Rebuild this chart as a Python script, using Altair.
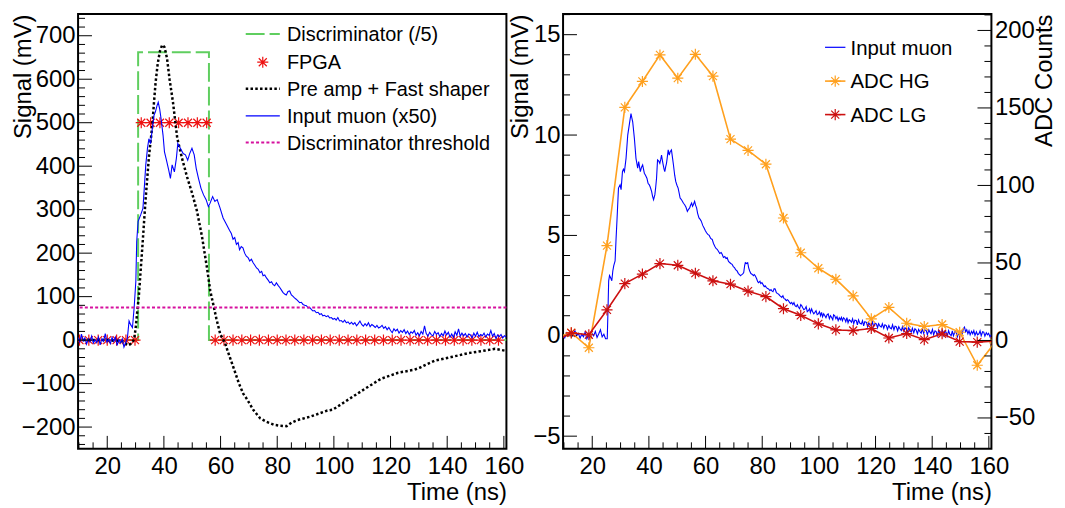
import altair as alt
import pandas as pd

FONT = "Liberation Sans"
PW, PH = 431, 437.5
X_DOMAIN = [9.7, 160.9]

# ---------------- left panel data ----------------
disc_t = [9.7, 30.9, 30.9, 55.9, 55.9, 160.9]
disc_mv = [0, 0, 662, 662, 0, 0]

fpga_low_t = [10.2, 13.5, 16.8, 20.0, 23.3, 26.6, 29.8,
              58.1, 61.2, 64.4, 67.5, 70.6, 73.7, 76.9, 80.0, 83.1, 86.2, 89.4,
              92.5, 95.6, 98.7, 101.9, 105.0, 108.1, 111.2, 114.4, 117.5, 120.6,
              123.7, 126.9, 130.0, 133.1, 136.2, 139.4, 142.5, 145.6, 148.7,
              151.9, 155.0, 158.1]
fpga_high_t = [32.0, 35.3, 38.6, 41.9, 45.2, 48.5, 51.8, 55.1]
fpga_levels_mv = [0, 500]

shaper = [(9.7, 0), (20, 0), (25.5, -3), (27.3, -12), (28.5, -8), (29.5, 2), (30.05, 29),
          (31.2, 106), (32.4, 215), (33.56, 326), (34.72, 422), (35.91, 494), (36.5, 547),
          (37.07, 593), (37.8, 635), (38.6, 665), (39.4, 679), (40.2, 674), (41.1, 648),
          (42.0, 600), (43.2, 547), (44.7, 465), (46.4, 418), (48.19, 375), (49.95, 338),
          (51.7, 296), (53.45, 238), (55.21, 166), (56.37, 113), (57.5, 80), (58.5, 50),
          (59.88, 14), (61.6, -7), (62.5, -25), (64.5, -62), (66.5, -100), (68.0, -123),
          (69.24, -135), (71.6, -161), (74.0, -180), (76.3, -188), (79.0, -195), (81.1, -197),
          (83.3, -198), (85.0, -190), (87.0, -184), (91.7, -176), (97.7, -162), (99.6, -160),
          (104.8, -138), (110.7, -113), (116.6, -89), (122.7, -75), (128.5, -68), (130.5, -63),
          (132.0, -58), (135.6, -47), (141.4, -39), (147.4, -30), (153.4, -24), (156.9, -20),
          (160.9, -25)]

muon_left = [
    (9.7, 6), (10.3, -4), (10.9, 14), (11.5, -2), (12.1, 5), (12.7, -9), (13.3, 3), (13.9, -4),
    (14.5, 9), (15.1, -7), (15.7, 1), (16.3, -6), (16.9, 7), (17.5, -11), (18.1, 3), (18.7, -3),
    (19.3, 15), (19.9, -5), (20.5, 2), (21.1, -8), (21.7, 6), (22.3, -3), (22.9, 7), (23.5, -12),
    (24.1, 1), (24.7, -6), (25.3, 3), (25.9, -16), (26.5, -6), (27.1, 4), (27.7, 44), (28.3, 35),
    (28.9, 29), (29.5, 75), (30.1, 136), (30.4, 227), (30.9, 273), (31.8, 288), (32.6, 303),
    (33.0, 342), (33.6, 403), (34.2, 441), (34.7, 463), (35.3, 452), (35.9, 486), (36.5, 517),
    (37.0, 525), (37.6, 540), (38.0, 547), (38.5, 532), (39.0, 509), (39.7, 471), (40.2, 433),
    (40.9, 414), (41.7, 391), (42.3, 372), (42.9, 403), (43.7, 387), (44.4, 418), (44.9, 452),
    (45.8, 441), (46.8, 429), (47.6, 426), (48.4, 414), (49.1, 429), (49.9, 441), (50.7, 426),
    (51.4, 395), (52.2, 372), (53.1, 349), (54.0, 334), (54.9, 323), (55.7, 307), (56.3, 315),
    (57.2, 330), (58.0, 319), (58.8, 323), (59.8, 304), (60.9, 281), (62.1, 266), (63.2, 252),
    (63.8, 245), (64.4, 232), (65.0, 236), (65.6, 220), (66.2, 224), (66.7, 208), (67.3, 215),
    (67.9, 212), (68.5, 200), (69.1, 193), (69.7, 190), (70.3, 182), (70.9, 186), (71.5, 178),
    (72.1, 172), (72.7, 166), (73.3, 163), (73.9, 155), (74.5, 158), (75.0, 148), (75.6, 150),
    (76.2, 143), (76.8, 138), (77.4, 132), (78.0, 134), (78.5, 128), (79.1, 125), (79.7, 132),
    (80.3, 126), (80.9, 121), (81.5, 115), (82.0, 110), (82.6, 106), (83.2, 104), (83.8, 112),
    (84.4, 113), (85.0, 104), (85.5, 101), (86.1, 97), (86.7, 94), (87.3, 90), (87.9, 86),
    (88.5, 87), (89.1, 82), (89.7, 80), (90.3, 79), (90.9, 74), (91.5, 75), (92.1, 70),
    (92.6, 67), (93.2, 68), (93.8, 63), (94.4, 64), (95.0, 59), (95.6, 61), (96.1, 56),
    (96.7, 57), (97.3, 54), (97.9, 56), (98.5, 51), (99.1, 52), (99.7, 48), (100.3, 50),
    (100.8, 46), (101.4, 52), (102.0, 44), (102.6, 45), (103.2, 41), (103.8, 46), (104.4, 40),
    (105.0, 42), (105.6, 37), (106.2, 41), (106.8, 36), (107.4, 40), (108.0, 33), (108.6, 38),
    (109.2, 44), (109.8, 36), (110.4, 32), (111.0, 38), (111.6, 33), (112.2, 40), (112.8, 31),
    (113.4, 36), (114.0, 33), (114.6, 29), (115.2, 34), (115.8, 28), (116.4, 30), (117.0, 34),
    (117.6, 27), (118.2, 31), (118.8, 24), (119.4, 29), (120.0, 22), (120.6, 17), (121.2, 26),
    (121.8, 21), (122.4, 25), (123.0, 16), (123.6, 22), (124.2, 18), (124.8, 24), (125.4, 15),
    (126.0, 21), (126.6, 13), (127.2, 19), (127.8, 16), (128.4, 22), (129.0, 11), (129.6, 17),
    (130.2, 10), (130.8, 20), (131.4, 14), (132.0, 33), (132.6, 15), (133.2, 9), (133.8, 18),
    (134.4, 12), (135.0, 10), (135.6, 20), (136.2, 13), (136.8, 17), (137.4, 8), (138.0, 15),
    (138.6, 10), (139.2, 21), (139.8, 12), (140.4, 18), (141.0, 7), (141.6, 14), (142.2, 6),
    (142.8, 19), (143.4, 11), (144.0, 26), (144.6, 9), (145.2, 16), (145.8, 10), (146.4, 15),
    (147.0, 7), (147.6, 14), (148.2, 12), (148.8, 5), (149.4, 16), (150.0, 9), (150.6, 18),
    (151.2, 8), (151.8, 13), (152.4, 10), (153.0, 16), (153.6, 7), (154.2, 14), (154.8, 11),
    (155.4, 22), (156.0, 9), (156.6, 15), (157.2, 4), (157.8, 12), (158.4, 8), (159.0, 13),
    (159.6, 5), (160.2, 10), (160.9, 7)]

threshold_mv = [75]

# ---------------- right panel data ----------------
muon_right = [
    (9.7, 0.05), (10.3, -0.1), (10.9, 0.15), (11.5, 0.02), (12.1, 0.2), (12.7, -0.05), (13.3, 0.1),
    (13.9, 0.25), (14.5, 0.0), (15.1, 0.12), (15.7, -0.12), (16.3, 0.08), (16.9, -0.05), (17.5, 0.18),
    (18.1, -0.15), (18.7, 0.05), (19.3, -0.2), (19.9, 0.12), (20.5, 0.0), (21.1, 0.22), (21.7, -0.08),
    (22.3, 0.1), (22.9, 0.3), (23.5, -0.05), (24.1, 0.08), (24.7, -0.15), (25.3, -0.15), (25.6, 1.5),
    (25.8, 2.74), (26.1, 3.0), (26.46, 2.9), (26.91, 2.74), (27.26, 3.23), (27.6, 3.5), (28.07, 3.73),
    (28.4, 4.8), (28.77, 5.87), (29.26, 7.36), (29.82, 7.52), (30.18, 7.28), (30.67, 8.18), (31.0, 8.3),
    (31.37, 8.18), (31.93, 8.84), (32.53, 10.0), (33.23, 10.66), (33.68, 11.07), (33.9, 10.9),
    (34.28, 10.66), (34.88, 9.83), (35.44, 8.84), (36.04, 8.35), (36.39, 8.68), (36.98, 8.18),
    (37.4, 8.4), (37.79, 8.51), (38.39, 8.1), (38.8, 8.0), (39.3, 7.85), (39.7, 7.6), (40.14, 7.52),
    (40.5, 7.4), (40.95, 7.19), (41.3, 6.95), (41.65, 6.78), (42.11, 7.03), (42.4, 7.4), (42.7, 7.85),
    (43.05, 8.76), (43.5, 8.7), (43.86, 8.59), (44.2, 8.8), (44.46, 9.0), (44.8, 8.7), (45.05, 8.51),
    (45.35, 8.3), (45.61, 8.18), (45.9, 8.4), (46.21, 8.59), (46.5, 8.9), (46.81, 9.26), (47.2, 9.0),
    (47.51, 9.17), (47.96, 9.26), (48.3, 8.9), (48.67, 8.51), (49.1, 8.0), (49.47, 7.69), (49.9, 7.5),
    (50.32, 7.36), (50.7, 7.1), (51.02, 6.86), (51.4, 6.8), (51.82, 6.7), (52.2, 6.6), (52.63, 6.53),
    (53.1, 6.4), (53.58, 6.2), (54.0, 6.3), (54.39, 6.37), (54.7, 6.5), (55.09, 6.61), (55.4, 6.45),
    (55.68, 6.53), (56.14, 6.7), (56.5, 6.5), (56.84, 6.37), (57.2, 6.1), (57.68, 5.87), (58.1, 5.8),
    (58.49, 5.71), (59.0, 5.5), (59.44, 5.38), (59.9, 5.25), (60.35, 5.13), (60.8, 5.05), (61.3, 5.0),
    (61.8, 4.85), (62.35, 4.8), (62.8, 4.6), (63.3, 4.45), (63.7, 4.35), (64.1, 4.31), (64.6, 4.2),
    (65.0, 4.1), (65.5, 4.15), (65.86, 4.06), (66.3, 3.9), (66.8, 3.95), (67.2, 3.85), (67.61, 3.89),
    (68.1, 3.7), (68.5, 3.65), (68.9, 3.6), (69.37, 3.56), (69.8, 3.45), (70.2, 3.4), (70.6, 3.3),
    (71.12, 3.23), (71.6, 3.1), (72.0, 3.05), (72.28, 2.99), (72.8, 3.05), (73.2, 3.1), (73.47, 3.15),
    (73.8, 3.5), (74.04, 3.64), (74.5, 3.6), (74.88, 3.64), (75.2, 3.4), (75.58, 3.23), (76.0, 3.1),
    (76.39, 3.07), (76.9, 3.0), (77.2, 3.05), (77.54, 2.99), (78.0, 2.85), (78.4, 2.7), (78.74, 2.65),
    (79.2, 2.72), (79.5, 2.6), (79.89, 2.65), (80.3, 2.55), (80.7, 2.45), (81.05, 2.49), (81.5, 2.4),
    (81.9, 2.35), (82.25, 2.33), (82.7, 2.25), (83.1, 2.3), (83.4, 2.24), (83.8, 2.2), (84.2, 2.35),
    (84.56, 2.33), (85.0, 2.15), (85.4, 2.1), (85.75, 2.08), (86.2, 2.0), (86.6, 1.95), (86.91, 1.91),
    (87.3, 2.0), (87.7, 1.85), (88.07, 1.83), (88.5, 1.75), (88.9, 1.8), (89.26, 1.75), (89.7, 1.65),
    (90.0, 1.6), (90.42, 1.66), (90.8, 1.55), (91.2, 1.65), (91.58, 1.5), (92.0, 1.45), (92.4, 1.55),
    (92.77, 1.42), (93.2, 1.35), (93.6, 1.55), (93.93, 1.5), (94.3, 1.4), (94.7, 1.3), (95.09, 1.34),
    (95.5, 1.45), (95.9, 1.2), (96.28, 1.25), (96.7, 1.35), (97.0, 1.15), (97.44, 1.34), (97.8, 1.2),
    (98.2, 1.1), (98.6, 1.17), (99.0, 1.25), (99.4, 1.05), (99.79, 1.09), (100.2, 1.2), (100.6, 1.0),
    (100.95, 1.17), (101.3, 0.95), (101.7, 1.1), (102.11, 1.0), (102.5, 0.9), (102.9, 1.05),
    (103.3, 1.09), (103.7, 0.85), (104.1, 1.0), (104.46, 0.92), (104.9, 0.8), (105.2, 1.05),
    (105.61, 1.0), (106.0, 0.85), (106.4, 0.95), (106.81, 0.76), (107.2, 0.9), (107.6, 0.8),
    (107.96, 0.92), (108.3, 0.75), (108.7, 0.9), (109.12, 0.84), (109.5, 0.7), (109.9, 0.9),
    (110.3, 0.65), (110.7, 0.8), (111.1, 0.75), (111.5, 0.67), (111.9, 0.85), (112.3, 0.6),
    (112.7, 0.78), (113.2, 0.76), (113.6, 0.55), (114.0, 0.8), (114.5, 0.62), (115.0, 0.59),
    (115.4, 0.75), (115.8, 0.5), (116.2, 0.7), (116.8, 0.67), (117.2, 0.45), (117.6, 0.65),
    (118.0, 0.55), (118.5, 0.51), (118.9, 0.7), (119.3, 0.45), (119.8, 0.62), (120.3, 0.59),
    (120.7, 0.4), (121.1, 0.6), (121.6, 0.48), (122.0, 0.43), (122.4, 0.6), (122.9, 0.38),
    (123.3, 0.55), (123.8, 0.51), (124.2, 0.32), (124.7, 0.52), (125.1, 0.4), (125.6, 0.35),
    (126.0, 0.55), (126.5, 0.3), (126.9, 0.48), (127.3, 0.46), (127.8, 0.25), (128.2, 0.45),
    (128.6, 0.35), (129.1, 0.26), (129.5, 0.45), (130.0, 0.22), (130.4, 0.4), (130.8, 0.35),
    (131.3, 0.15), (131.7, 0.4), (132.2, 0.25), (132.6, 0.18), (133.0, 0.38), (133.5, 0.15),
    (133.9, 0.35), (134.3, 0.3), (134.8, 0.1), (135.2, 0.32), (135.7, 0.2), (136.1, 0.13),
    (136.5, 0.35), (137.0, 0.12), (137.4, 0.3), (137.9, 0.26), (138.3, 0.05), (138.8, 0.3),
    (139.2, 0.18), (139.6, 0.1), (140.1, 0.32), (140.5, 0.05), (141.0, 0.25), (141.4, 0.21),
    (141.8, 0.0), (142.3, 0.28), (142.7, 0.12), (143.1, 0.06), (143.6, 0.3), (144.0, 0.02),
    (144.5, 0.22), (144.9, 0.18), (145.3, -0.02), (145.8, 0.25), (146.2, 0.08), (146.7, 0.01),
    (147.1, 0.25), (147.5, 0.0), (148.0, 0.2), (148.4, 0.18), (148.9, -0.05), (149.3, 0.15),
    (149.7, 0.0), (150.2, 0.2), (150.6, 0.1), (151.0, 0.35), (151.4, 0.43), (151.8, 0.2),
    (152.2, 0.3), (152.6, 0.1), (153.0, 0.25), (153.4, 0.05), (153.9, 0.22), (154.3, 0.1),
    (154.7, 0.26), (155.1, 0.02), (155.6, 0.2), (156.0, 0.05), (156.5, 0.1), (156.9, 0.25),
    (157.3, 0.0), (157.8, 0.2), (158.2, 0.18), (158.6, -0.02), (159.1, 0.15), (159.5, 0.05),
    (159.9, 0.12), (160.4, -0.05), (160.9, 0.05)]

adc_t = [6.4, 12.6, 18.8, 25.2, 31.5, 37.7, 43.9, 50.2, 56.4, 62.6, 68.8, 75.0, 81.3,
         87.5, 93.6, 99.8, 106.0, 112.1, 118.5, 124.7, 131.0, 137.2, 143.5, 149.7, 155.9, 162.1]
adc_hg = [1.5, 5.0, -4.7, 61.2, 150.4, 167.1, 184.2, 169.2, 184.6, 170.5, 129.9, 122.6, 113.7,
          79.0, 56.6, 46.6, 39.5, 28.8, 13.9, 21.3, 11.1, 9.0, 10.3, 5.3, -16.0, -1.5]
adc_lg = [-1.0, 4.9, 3.7, 19.7, 36.7, 42.8, 49.6, 48.5, 43.4, 38.5, 36.3, 31.8, 28.3,
          20.5, 16.2, 10.7, 6.8, 6.4, 7.7, 1.6, 4.5, 0.5, 4.3, -0.7, -1.1, -0.3]

# ---------------- ticks and legend text ----------------
x_major = [20, 40, 60, 80, 100, 120, 140, 160]
x_minor = [10, 15, 25, 30, 35, 45, 50, 55, 65, 70, 75, 85, 90, 95, 105, 110, 115,
           125, 130, 135, 145, 150, 155]
yl_major = [-200, -100, 0, 100, 200, 300, 400, 500, 600, 700]
yl_minor = [-240, -220, -180, -160, -140, -120, -80, -60, -40, -20, 20, 40, 60, 80,
            120, 140, 160, 180, 220, 240, 260, 280, 320, 340, 360, 380, 420, 440, 460,
            480, 520, 540, 560, 580, 620, 640, 660, 680, 720, 740]
yr_major = [-5, 0, 5, 10, 15]
yr_minor = [-4, -3, -2, -1, 1, 2, 3, 4, 6, 7, 8, 9, 11, 12, 13, 14, 16]
adc_major = [-50, 0, 50, 100, 150, 200]
adc_minor = [-60, -40, -30, -20, -10, 10, 20, 30, 40, 60, 70, 80, 90, 110, 120, 130,
             140, 160, 170, 180, 190, 210]

left_legend = ["Discriminator (/5)", "FPGA", "Pre amp + Fast shaper",
               "Input muon (x50)", "Discriminator threshold"]
right_legend = ["Input muon", "ADC HG", "ADC LG"]

STAR = "M-1,0L1,0M0,-1L0,1M-0.72,-0.72L0.72,0.72M-0.72,0.72L0.72,-0.72"
STAR_SIZE = 125
GREEN, RED, BLUE, PINK = "#5fce5f", "#ee1111", "#0000ff", "#d6109e"
ORANGE, DRED = "#ffa01e", "#cc1010"

xs = alt.Scale(domain=X_DOMAIN, nice=False, zero=False)
ys_left = alt.Scale(domain=[-250, 750], nice=False, zero=False)
ys_r1 = alt.Scale(domain=[-5.63, 16.03], nice=False, zero=False)
ys_r2 = alt.Scale(domain=[-69.9, 210.6], nice=False, zero=False)

common_axis = dict(ticks=False, tickSize=0, domain=False, grid=False,
                   labelFont=FONT, labelFontSize=24, labelColor="black",
                   labelFlush=False, labelOverlap=False,
                   titleFont=FONT, titleFontSize=24, titleFontWeight="normal",
                   titleColor="black")

AX_X = alt.Axis(values=x_major, labelPadding=6, title="Time (ns)", titleX=PW, titleY=51,
                titleAlign="right", titleBaseline="alphabetic", titleAngle=0, **common_axis)


def y_axis(values, title, tx, orient="left", pad=3):
    return alt.Axis(values=values, orient=orient, labelPadding=pad, title=title, titleAngle=270,
                    titleX=tx, titleY=0, titleAlign="right", titleBaseline="alphabetic",
                    **common_axis)


AX_YL = y_axis(yl_major, "Signal (mV)", -47.5)
AX_YR1 = y_axis(yr_major, "Signal (mV)", -36)
AX_YR2 = y_axis(adc_major, "ADC Counts", 60, orient="right", pad=3)


def pairs_df(pairs):
    return pd.DataFrame({"t": [p[0] for p in pairs], "v": [p[1] for p in pairs],
                         "i": list(range(len(pairs)))})


def X():
    return alt.X("t:Q", scale=xs, axis=AX_X)


def xticks(values, length):
    return alt.Chart(pd.DataFrame({"t": values})).mark_rule(color="black", strokeWidth=1).encode(
        x=X(), y=alt.value(PH), y2=alt.value(PH - length))


def yticks(values, length, scale, axis, right=False):
    x1, x2 = (PW - length, PW) if right else (0, length)
    return alt.Chart(pd.DataFrame({"v": values})).mark_rule(color="black", strokeWidth=1).encode(
        y=alt.Y("v:Q", scale=scale, axis=axis), x=alt.value(x1), x2=alt.value(x2))


def leg_text(label, x, y, size=20):
    return alt.Chart(pd.DataFrame({"label": [label]})).mark_text(
        align="left", baseline="alphabetic", font=FONT, fontSize=size, color="black").encode(
        x=alt.value(x), y=alt.value(y), text="label:N")


def leg_line(x1, x2, y, color, width, dash=None):
    kw = {"strokeDash": dash} if dash else {}
    return alt.Chart(pd.DataFrame({"k": [0]})).mark_rule(color=color, strokeWidth=width, **kw).encode(
        x=alt.value(x1), x2=alt.value(x2), y=alt.value(y))


def leg_star(x, y, color):
    return alt.Chart(pd.DataFrame({"k": [0]})).mark_point(
        shape=STAR, size=STAR_SIZE, filled=False, color=color, strokeWidth=1.2, opacity=1).encode(
        x=alt.value(x), y=alt.value(y))


# ---------------- left panel ----------------
YL = lambda: alt.Y("v:Q", scale=ys_left, axis=AX_YL)

disc = alt.Chart(pd.DataFrame({"t": disc_t, "v": disc_mv, "i": range(len(disc_t))})).mark_line(
    color=GREEN, strokeWidth=2, strokeDash=[19, 5], clip=True).encode(
    x=X(), y=YL(), order="i:Q")

fpga_df = pd.DataFrame({
    "t": fpga_low_t + fpga_high_t,
    "v": [fpga_levels_mv[0]] * len(fpga_low_t) + [fpga_levels_mv[1]] * len(fpga_high_t)})
fpga = alt.Chart(fpga_df).mark_point(
    shape=STAR, size=STAR_SIZE, filled=False, color=RED, strokeWidth=1.2, opacity=1, clip=True).encode(
    x=X(), y=YL())

shaper_line = alt.Chart(pairs_df(shaper)).mark_line(
    color="black", strokeWidth=2.5, strokeDash=[2.5, 2.3], clip=True).encode(
    x=X(), y=YL(), order="i:Q")

muonL = alt.Chart(pairs_df(muon_left)).mark_line(color=BLUE, strokeWidth=1.1, clip=True).encode(
    x=X(), y=YL(), order="i:Q")

thr = alt.Chart(pd.DataFrame({"v": threshold_mv})).mark_rule(
    color=PINK, strokeWidth=2, strokeDash=[3, 2.2]).encode(y=YL())

LX1, LX2, LXT = 168.7, 203, 210.2
LROWS = [20.0, 48.5, 75.2, 102.5, 129.2]
left_leg = [
    leg_line(LX1, LX2, LROWS[0], GREEN, 2, [19, 5]),
    leg_star((LX1 + LX2) / 2, LROWS[1], RED),
    leg_line(LX1, LX2, LROWS[2], "black", 2.5, [2.5, 2.3]),
    leg_line(LX1, LX2, LROWS[3], BLUE, 1.2),
    leg_line(LX1, LX2, LROWS[4], PINK, 2, [3, 2.2]),
] + [leg_text(lbl, LXT, y + 7.3) for lbl, y in zip(left_legend, LROWS)]

left = alt.layer(
    disc, fpga, shaper_line, muonL, thr,
    xticks(x_major, 13), xticks(x_minor, 6.5),
    yticks(yl_major, 14, ys_left, AX_YL), yticks(yl_minor, 7, ys_left, AX_YL),
    *left_leg,
).properties(width=PW, height=PH)

# ---------------- right panel ----------------
muonR = alt.Chart(pairs_df(muon_right)).mark_line(color=BLUE, strokeWidth=1.1, clip=True).encode(
    x=X(), y=alt.Y("v:Q", scale=ys_r1, axis=AX_YR1), order="i:Q")

RX1, RX2, RXT = 263.6, 284.1, 289.2
RROWS = [33.5, 67.5, 101.2]
right_leg = [
    leg_line(RX1, RX2, RROWS[0], BLUE, 1.2),
    leg_line(RX1, RX2, RROWS[1], ORANGE, 1.6),
    leg_star((RX1 + RX2) / 2, RROWS[1], ORANGE),
    leg_line(RX1, RX2, RROWS[2], DRED, 1.6),
    leg_star((RX1 + RX2) / 2, RROWS[2], DRED),
] + [leg_text(lbl, RXT, y + 7.4, 20.5) for lbl, y in zip(right_legend, RROWS)]

groupA = alt.layer(
    muonR,
    xticks(x_major, 13), xticks(x_minor, 6.5),
    yticks(yr_major, 14, ys_r1, AX_YR1), yticks(yr_minor, 7, ys_r1, AX_YR1),
    *right_leg,
)

adc_df = pd.DataFrame({"t": adc_t, "hg": adc_hg, "lg": adc_lg})
YR2 = lambda f: alt.Y(f, scale=ys_r2, axis=AX_YR2)
hg_line = alt.Chart(adc_df).mark_line(color=ORANGE, strokeWidth=1.6, clip=True).encode(
    x=X(), y=YR2("hg:Q"))
hg_pts = alt.Chart(adc_df).mark_point(
    shape=STAR, size=STAR_SIZE, filled=False, color=ORANGE, strokeWidth=1.2, opacity=1, clip=True).encode(
    x=X(), y=YR2("hg:Q"))
lg_line = alt.Chart(adc_df).mark_line(color=DRED, strokeWidth=1.6, clip=True).encode(
    x=X(), y=YR2("lg:Q"))
lg_pts = alt.Chart(adc_df).mark_point(
    shape=STAR, size=STAR_SIZE, filled=False, color=DRED, strokeWidth=1.2, opacity=1, clip=True).encode(
    x=X(), y=YR2("lg:Q"))

groupB = alt.layer(
    hg_line, hg_pts, lg_line, lg_pts,
    yticks(adc_major, 14, ys_r2, AX_YR2, right=True), yticks(adc_minor, 7, ys_r2, AX_YR2, right=True),
)

right = alt.layer(groupA, groupB).resolve_scale(y="independent").properties(width=PW, height=PH)

chart = alt.hconcat(left, right, spacing=57, bounds="flush").properties(
    padding={"left": 2.5, "top": 3.5, "right": 0, "bottom": 0},
    background="white",
).configure_view(stroke="black", strokeWidth=2)

chart.save("out.html", embed_options={"renderer": "svg", "actions": False})
